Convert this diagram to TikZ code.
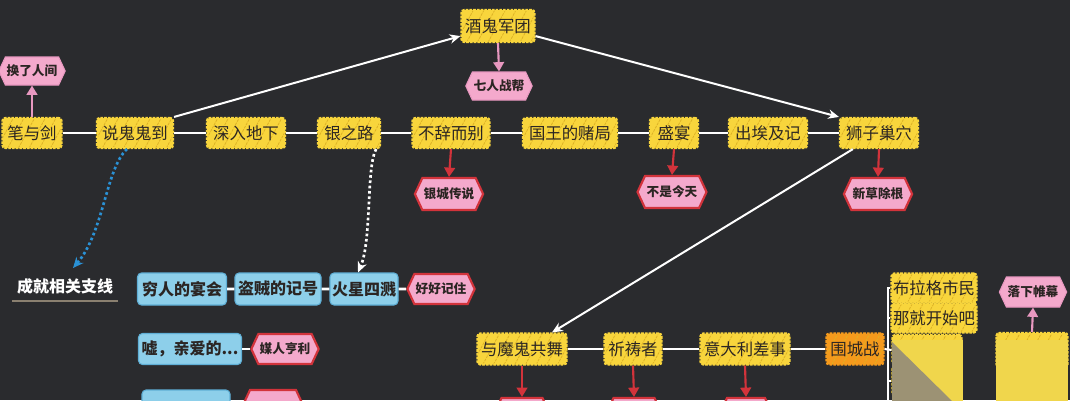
\documentclass[tikz,border=0pt]{standalone}
\usepackage{fontspec}
\setmainfont{Noto Sans CJK SC}
\usetikzlibrary{shapes.symbols,arrows.meta,calc}
\definecolor{bg}{HTML}{2A2B2E}
\definecolor{ylw}{HTML}{F8D53C}
\definecolor{hatchc}{HTML}{DDB226}
\definecolor{blu}{HTML}{8DCFEA}
\definecolor{blud}{HTML}{5FAFD6}
\definecolor{pnk}{HTML}{F4A9CC}
\definecolor{pnkd}{HTML}{E898C0}
\definecolor{redd}{HTML}{D2333B}
\definecolor{org}{HTML}{F59A1C}
\definecolor{txt}{HTML}{2B2523}
\definecolor{bluarr}{HTML}{2A92D6}
\definecolor{wmy}{HTML}{F0D64C}
\definecolor{wmg}{HTML}{9C9274}
\definecolor{ul}{HTML}{8A8070}
\tikzset{
  w/.style={minimum width=#1*0.75pt},
  h/.style={minimum height=#1*0.75pt},
  hatchfill/.style={path picture={\foreach \k in {0,...,16}{\draw[hatchc,line width=0.6pt] ($(path picture bounding box.south west)+(\k*8pt-20pt,0)$) -- ++(14pt,26pt);}}},
  yel/.style={rectangle, rounded corners=2pt, fill=ylw, draw=ylw, line width=1.6pt, dash pattern=on 2pt off 0.8pt, hatchfill, text=txt, font=\fontsize{12.3}{13}\selectfont, inner xsep=1pt, inner ysep=1pt, h=30},
  orgbox/.style={yel, fill=org, draw=org},
  blue/.style={rectangle, rounded corners=3pt, fill=blu, draw=blud, line width=0.8pt, text=txt, font=\bfseries\fontsize{12}{13}\selectfont, inner xsep=1pt, inner ysep=1pt, h=32},
  hexr/.style={shape=signal, signal to=east and west, signal pointer angle=130, fill=pnk, draw=redd, line width=1.6pt, text=txt, font=\bfseries\fontsize{9.5}{10}\selectfont, inner xsep=1pt, inner ysep=1pt, h=31},
  hexp/.style={hexr, draw=pnkd, line width=0.8pt, h=28},
  mainln/.style={white, line width=2.2pt},
  diag/.style={white, line width=1.5pt, -{Stealth[length=8pt,width=7pt]}},
  redarr/.style={redd, line width=1.6pt, -{Triangle[length=7pt,width=8pt]}},
  pnkarr/.style={pnkd, line width=1.6pt, -{Triangle[length=7pt,width=8pt]}},
}
\begin{document}
\begin{tikzpicture}[x=0.75pt,y=-0.75pt]
\useasboundingbox (0,0) rectangle (1070,400);
\fill[bg] (0,0) rectangle (1070,400);
\clip (0,0) rectangle (1070,400);

% main row
\node[yel,w=59] (bjj) at (32,133) {笔与剑};
\node[yel,w=76] (sgg) at (135,133) {说鬼鬼到};
\node[yel,w=78] (srdx) at (246,133) {深入地下};
\node[yel,w=62] (ylz) at (349,133) {银之路};
\node[yel,w=77] (bcb) at (451,133) {不辞而别};
\node[yel,w=94] (gwd) at (570,133) {国王的赌局};
\node[yel,w=48] (sy) at (674,133) {盛宴};
\node[yel,w=78] (cjj) at (768,133) {出埃及记};
\node[yel,w=78] (szc) at (879,133) {狮子巢穴};
\node[yel,w=73,h=32] (jg) at (498,26) {酒鬼军团};

\node[hexp,w=62] (qrz) at (499,86) {七人战帮};
\node[hexp,w=61] (hlr) at (32,71) {换了人间};
\node[hexr,w=68,h=32] (ycs) at (449,194) {银城传说};
\node[hexr,w=69,h=32] (bsj) at (672,192) {不是今天};
\node[hexr,w=60,h=32] (xcg) at (878,194) {新草除根};

\draw[mainln] (bjj) -- (sgg) -- (srdx) -- (ylz) -- (bcb) -- (gwd) -- (sy) -- (cjj) -- (szc);

% side branch label
\node[text=white, font=\bfseries\fontsize{12}{13}\selectfont] (cjx) at (65,286) {成就相关支线};
\coordinate (ula) at (12,301);
\coordinate (ulb) at (118,301);
\draw[ul, line width=0.8pt] (ula) -- (ulb);
\coordinate (bltip) at (73,268);

% blue rows
\node[blue,w=89] (qry) at (182,289) {穷人的宴会};
\node[blue,w=86] (dzj) at (278,289) {盗贼的记号};
\node[blue,w=68] (hxs) at (364,289) {火星四溅};
\node[hexr,w=66,h=30] (hhj) at (441,289) {好好记住};
\node[blue,w=103,h=31] (xqa) at (190,349) {嘘，亲爱的...};
\node[hexr,w=65,h=30] (mrh) at (285,349) {媒人亨利};
\node[blue,w=88] (b3) at (186,406) {};
\node[hexr,w=60,h=30] (p3) at (273,405) {};
\draw[mainln] (qry) -- (dzj) -- (hxs) -- (hhj);
\draw[mainln] (xqa) -- (mrh);

% bottom row
\node[yel,w=89,h=31] (ymw) at (522,349) {与魔鬼共舞};
\node[yel,w=57,h=31] (qdz) at (633,349) {祈祷者};
\node[yel,w=89,h=31] (ydl) at (745,349) {意大利差事};
\node[orgbox,w=57,h=31] (wcz) at (855,349) {围城战};
\node[yel,w=85,h=29] (blg) at (934,288) {布拉格市民};
\node[yel,w=85,h=29] (njk) at (934,318) {那就开始吧};
\node[yel,w=69,h=30] (hid1) at (927,350) {};
\node[yel,w=69,h=30] (hid1b) at (927,381) {};
\node[yel,w=71,h=34] (hid2) at (1032,350) {};
\node[hexp,w=62,h=30] (lxw) at (1033,292) {落下帷幕};
\node[hexr,w=55,h=30] (r1) at (522,413) {};
\node[hexr,w=55,h=30] (r2) at (634,413) {};
\node[hexr,w=52,h=30] (r3) at (746,413) {};
\draw[mainln] (ymw) -- (qdz) -- (ydl) -- (wcz);

% bracket
\coordinate (brbot) at (888,402);
\draw[white, line width=1.5pt] (blg.west) -| (brbot);
\draw[white, line width=1.5pt] (njk.west) -- (njk.west -| brbot);
\draw[white, line width=1.5pt] (wcz.east) -- (hid1.west);
\draw[white, line width=1.5pt] (hid1b.west) -- (hid1b.west -| brbot);

% diagonal arrows
\draw[diag] (sgg.north east) -- (jg.195);
\draw[diag] (jg.345) -- (szc.north west);
\draw[diag] ($(szc.south west)+(14,0)$) -- ($(ymw.north)+(30,0)$);

% dotted curves
\draw[bluarr, line width=2pt, dotted, -{Stealth[length=8pt,width=7pt]}] ($(sgg.south)+(-8,0)$) .. controls (106,168) and (104,232) .. (bltip);
\draw[white, line width=2pt, dotted, -{Stealth[length=8pt,width=7pt]}] ($(ylz.south east)+(-5,0)$) .. controls (366,168) and (372,240) .. ($(hxs.north)+(-6,0)$);

% vertical arrows
\draw[redarr] (bcb.south) -- (ycs.north);
\draw[redarr] (sy.south) -- (bsj.north);
\draw[redarr] (szc.south) -- (xcg.north);
\draw[redarr] (ymw.south) -- (r1.north);
\draw[redarr] (qdz.south) -- (r2.north);
\draw[redarr] (ydl.south) -- (r3.north);
\draw[pnkarr] (bjj.north) -- (hlr.south);
\draw[pnkarr] (jg.south) -- (qrz.north);
\draw[pnkarr] (hid2.north) -- (lxw.south);

% overlay (watermark)
\fill[wmy] (892,340) rectangle (963,402);
\fill[wmg] (892,342) -- (953,402) -- (892,402) -- cycle;
\fill[wmy] (996,340) rectangle (1068,402);
\end{tikzpicture}
\end{document}
